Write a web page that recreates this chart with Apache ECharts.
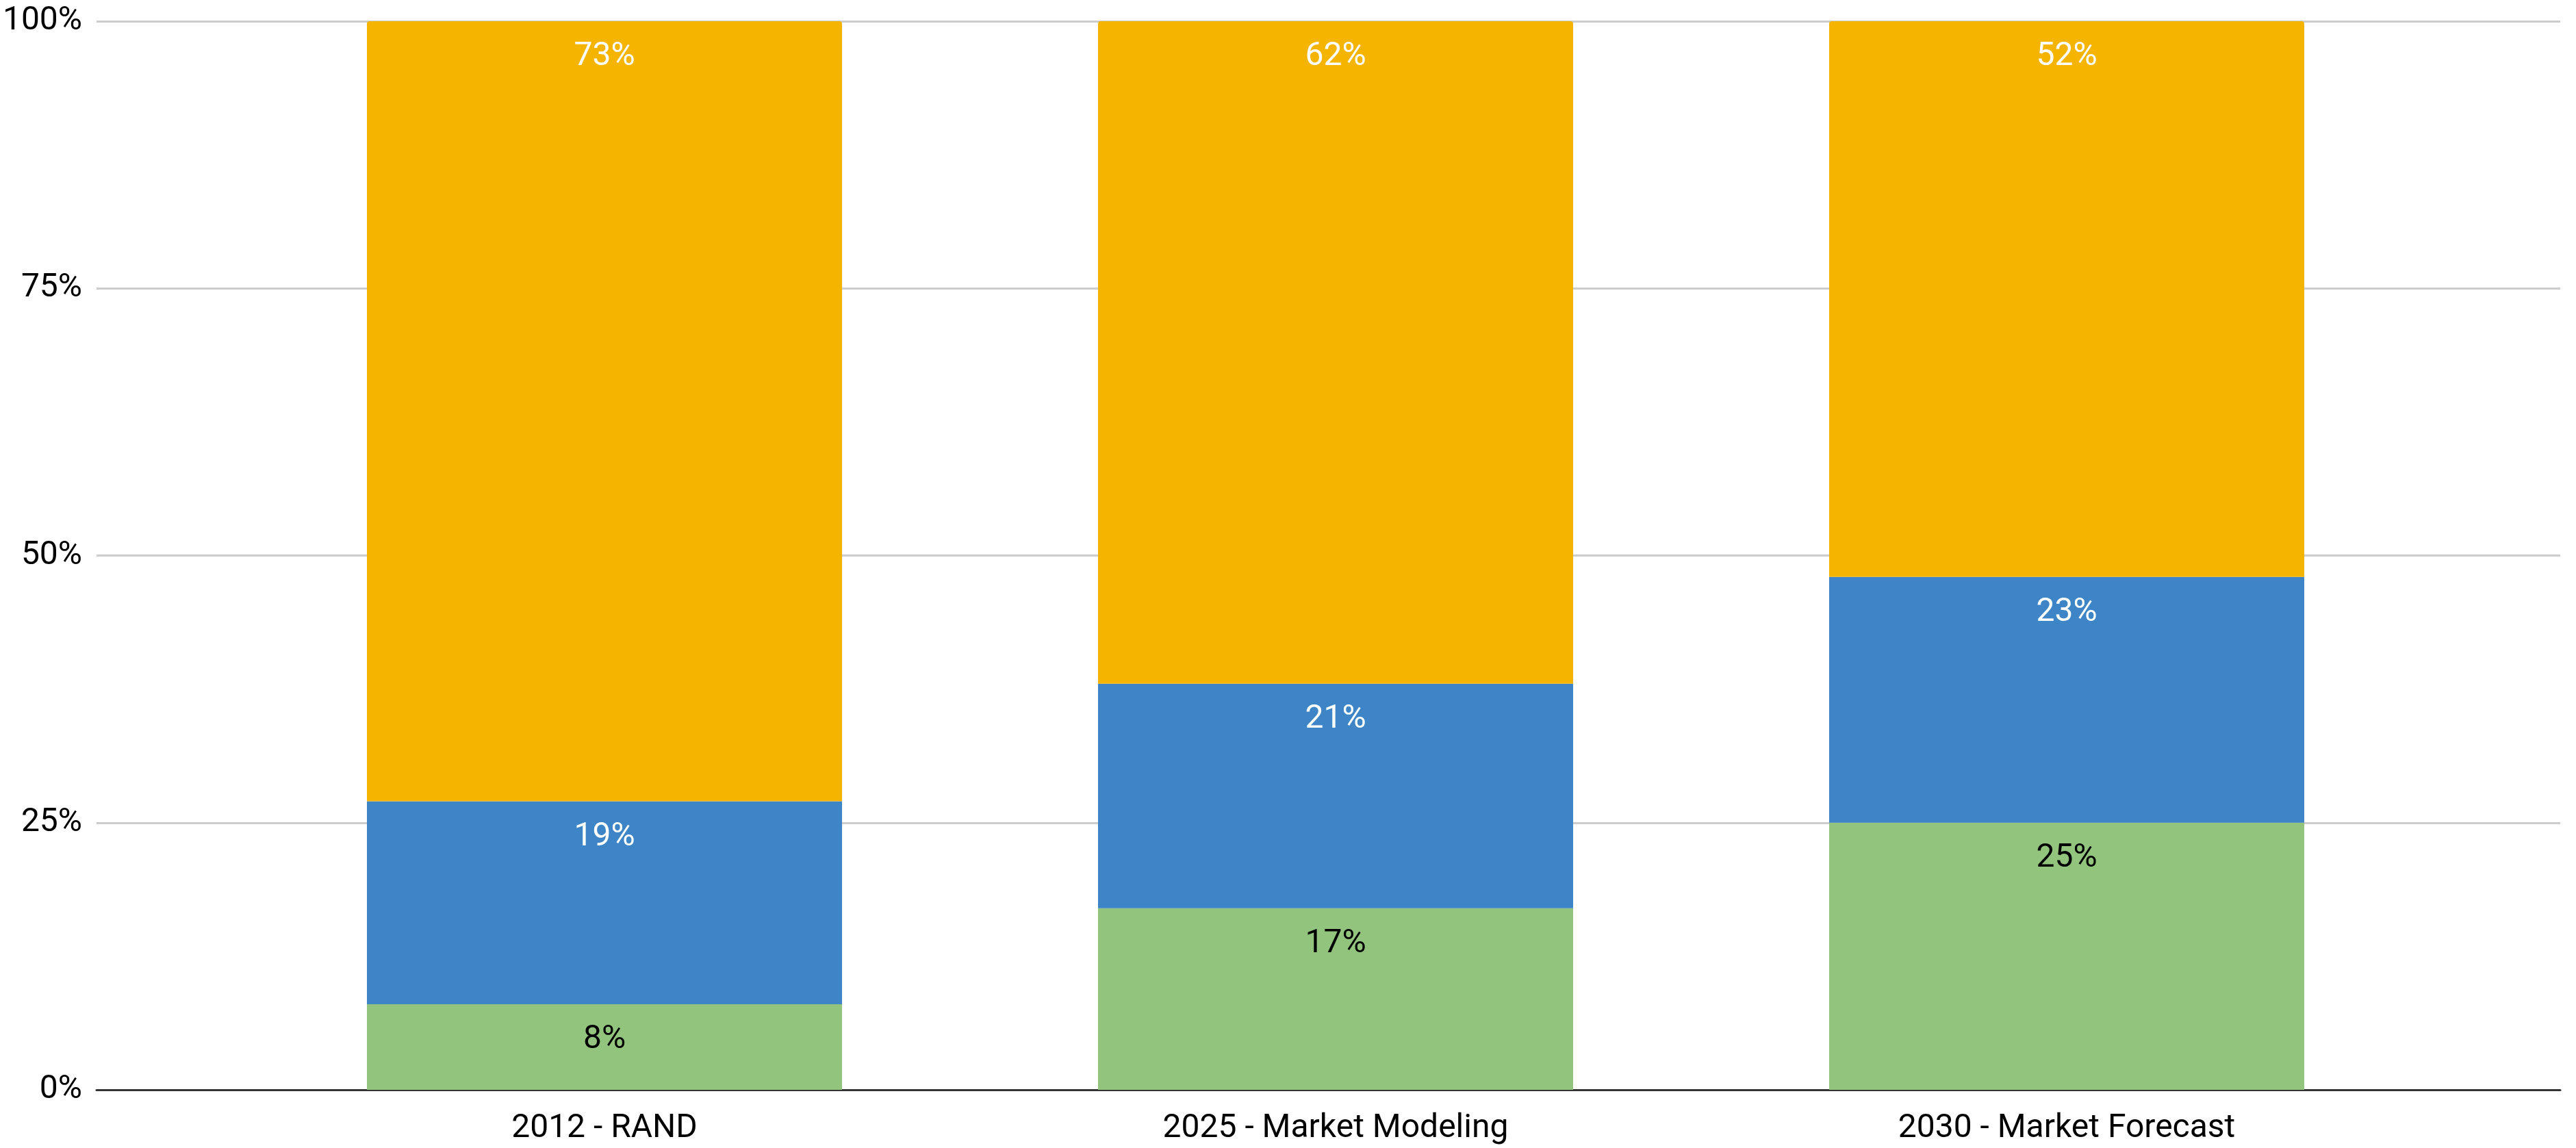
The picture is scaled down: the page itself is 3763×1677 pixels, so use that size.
<!DOCTYPE html>
<html>
<head>
<meta charset="utf-8">
<script src="https://cdn.jsdelivr.net/npm/echarts@6/dist/echarts.min.js"></script>
<style>
html,body{margin:0;padding:0;background:#fff;}
#chart{width:3763px;height:1677px;}
</style>
</head>
<body>
<div id="chart"></div>
<script>
var categories = ['2012 - RAND', '2025 - Market Modeling', '2030 - Market Forecast'];
var greenValues = [8, 17, 25];
var blueValues = [19, 21, 23];
var yellowValues = [73, 62, 52];
var yTicks = [0, 25, 50, 75, 100];

var FONT = 'Roboto';
var chart = echarts.init(document.getElementById('chart'), null, {renderer: 'canvas'});

function seg(name, data, color, labelColor, radius) {
  return {
    name: name,
    type: 'bar',
    stack: 'total',
    xAxisIndex: 1,
    yAxisIndex: 1,
    barWidth: 694,
    data: data,
    itemStyle: {color: color, borderRadius: radius},
    label: {
      show: true,
      position: 'insideTop',
      distance: 28,
      formatter: '{c}%',
      color: labelColor,
      fontFamily: FONT,
      fontSize: 48
    }
  };
}

chart.setOption({
  animation: false,
  backgroundColor: '#ffffff',
  grid: [
    {left: 141, right: 23, top: 31, bottom: 85},
    {left: 349, right: 210, top: 31, bottom: 85}
  ],
  xAxis: [
    {
      type: 'category', gridIndex: 0, data: categories,
      axisLine: {show: true, lineStyle: {color: '#333333', width: 3}},
      axisTick: {show: false}, axisLabel: {show: false}, splitLine: {show: false}
    },
    {
      type: 'category', gridIndex: 1, data: categories,
      axisLine: {show: false}, axisTick: {show: false},
      axisLabel: {show: true, color: '#000000', fontFamily: FONT, fontSize: 48, margin: 33}
    }
  ],
  yAxis: [
    {
      type: 'value', gridIndex: 0, min: 0, max: 100, interval: 25,
      axisLine: {show: false}, axisTick: {show: false},
      axisLabel: {color: '#000000', fontFamily: FONT, fontSize: 48, margin: 21,
        formatter: function (v) { return yTicks.indexOf(v) >= 0 ? v + '%' : ''; }},
      splitLine: {show: true, lineStyle: {color: '#cccccc', width: 3}}
    },
    {
      type: 'value', gridIndex: 1, min: 0, max: 100, interval: 25, show: false,
      splitLine: {show: false}
    }
  ],
  series: [
    seg('Segment 1', greenValues, '#93c47d', '#000000', 0),
    seg('Segment 2', blueValues, '#3d85c6', '#ffffff', 0),
    seg('Segment 3', yellowValues, '#f4b400', '#ffffff', [4, 4, 0, 0])
  ]
});
</script>
</body>
</html>
